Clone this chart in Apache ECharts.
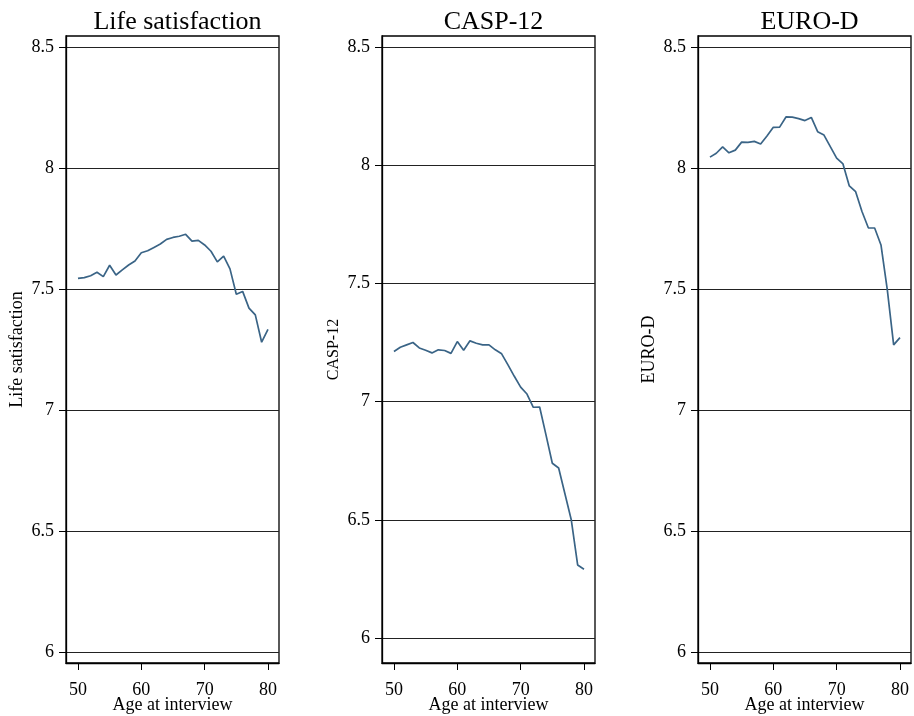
<!DOCTYPE html>
<html>
<head>
<meta charset="utf-8">
<script src="https://cdn.jsdelivr.net/npm/echarts@6/dist/echarts.min.js"></script>
<style>
  html, body { margin: 0; padding: 0; background: #fff; }
  #chart { width: 914px; height: 716px; }
</style>
</head>
<body>
<div id="chart"></div>
<script>
// Mean scores by age at interview
const ages = [50, 51, 52, 53, 54, 55, 56, 57, 58, 59, 60, 61, 62, 63, 64, 65,
              66, 67, 68, 69, 70, 71, 72, 73, 74, 75, 76, 77, 78, 79, 80];
const lifeSatisfaction = [7.544, 7.547, 7.555, 7.569, 7.551, 7.598, 7.558, 7.579, 7.599, 7.616,
                          7.650, 7.658, 7.672, 7.686, 7.705, 7.713, 7.718, 7.726, 7.698, 7.701,
                          7.682, 7.656, 7.612, 7.636, 7.583, 7.478, 7.490, 7.421, 7.393, 7.280, 7.333];
const casp12 = [7.212, 7.230, 7.240, 7.250, 7.227, 7.217, 7.206, 7.219, 7.216, 7.204,
                7.254, 7.217, 7.257, 7.247, 7.240, 7.240, 7.219, 7.202, 7.155, 7.107,
                7.061, 7.032, 6.976, 6.977, 6.859, 6.739, 6.719, 6.609, 6.499, 6.309, 6.291];
const euroD = [8.045, 8.061, 8.087, 8.063, 8.074, 8.107, 8.106, 8.110, 8.099, 8.132,
               8.168, 8.169, 8.211, 8.210, 8.204, 8.196, 8.209, 8.150, 8.136, 8.088,
               8.041, 8.017, 7.926, 7.902, 7.820, 7.753, 7.752, 7.682, 7.496, 7.269, 7.299];
const panelTitles = ['Life satisfaction', 'CASP-12', 'EURO-D'];
const xTicks = [50, 60, 70, 80];
const yTicks = [6, 6.5, 7, 7.5, 8, 8.5];
const xTitle = 'Age at interview';

const FONT = "'Liberation Serif', 'Times New Roman', serif";
const LINE_COLOR = '#3a6486';

const panels = [
  { left: 66,  yMin: 5.9545, yMax: 8.5455, values: lifeSatisfaction, nameSize: 18 },
  { left: 382, yMin: 5.8942, yMax: 8.5465, values: casp12,           nameSize: 16 },
  { left: 698, yMin: 5.9545, yMax: 8.5455, values: euroD,            nameSize: 18 }
];
const PANEL_W = 213;
const PANEL_TOP = 36;
const PANEL_BOTTOM = 53;

const option = {
  backgroundColor: '#ffffff',
  animation: false,
  title: panels.map((p, i) => ({
    text: panelTitles[i],
    left: p.left + PANEL_W / 2,
    textAlign: 'center',
    top: 4,
    textStyle: { fontFamily: FONT, fontSize: 26, fontWeight: 'normal', color: '#000' }
  })),
  grid: panels.map(p => ({
    left: p.left,
    width: PANEL_W,
    top: PANEL_TOP,
    bottom: PANEL_BOTTOM,
    show: true,
    borderColor: '#000',
    borderWidth: 1.3,
    backgroundColor: '#fff',
    containLabel: false,
    outerBoundsMode: 'none'
  })),
  xAxis: panels.map((p, i) => ({
    type: 'value',
    gridIndex: i,
    min: 48.11,
    max: 81.74,
    name: xTitle,
    nameLocation: 'middle',
    nameGap: 33,
    nameMoveOverlap: false,
    nameTextStyle: { fontFamily: FONT, fontSize: 18, color: '#000' },
    axisLine: { show: true, lineStyle: { color: '#000', width: 1.3 } },
    axisTick: { show: true, inside: false, length: 7, customValues: xTicks,
                lineStyle: { color: '#000', width: 1 } },
    axisLabel: { customValues: xTicks, margin: 18, fontFamily: FONT, fontSize: 18, color: '#000' },
    splitLine: { show: false }
  })),
  yAxis: panels.map((p, i) => ({
    type: 'value',
    gridIndex: i,
    min: p.yMin,
    max: p.yMax,
    name: panelTitles[i],
    nameLocation: 'middle',
    nameRotate: 90,
    nameGap: 40,
    nameMoveOverlap: false,
    nameTextStyle: { fontFamily: FONT, fontSize: p.nameSize, color: '#000' },
    axisLine: { show: true, lineStyle: { color: '#000', width: 1.3 } },
    axisTick: { show: true, inside: false, length: 7, customValues: yTicks,
                lineStyle: { color: '#000', width: 1 } },
    axisLabel: { customValues: yTicks, margin: 12, fontFamily: FONT, fontSize: 18, color: '#000',
                 formatter: v => String(v) },
    splitLine: { show: true, lineStyle: { color: '#222', width: 1 } }
  })),
  series: panels.map((p, i) => ({
    type: 'line',
    xAxisIndex: i,
    yAxisIndex: i,
    showSymbol: false,
    symbol: 'none',
    lineStyle: { color: LINE_COLOR, width: 1.7 },
    data: ages.map((a, k) => [a, p.values[k]])
  }))
};

const chart = echarts.init(document.getElementById('chart'), null, { renderer: 'canvas' });
chart.setOption(option);
</script>
</body>
</html>
